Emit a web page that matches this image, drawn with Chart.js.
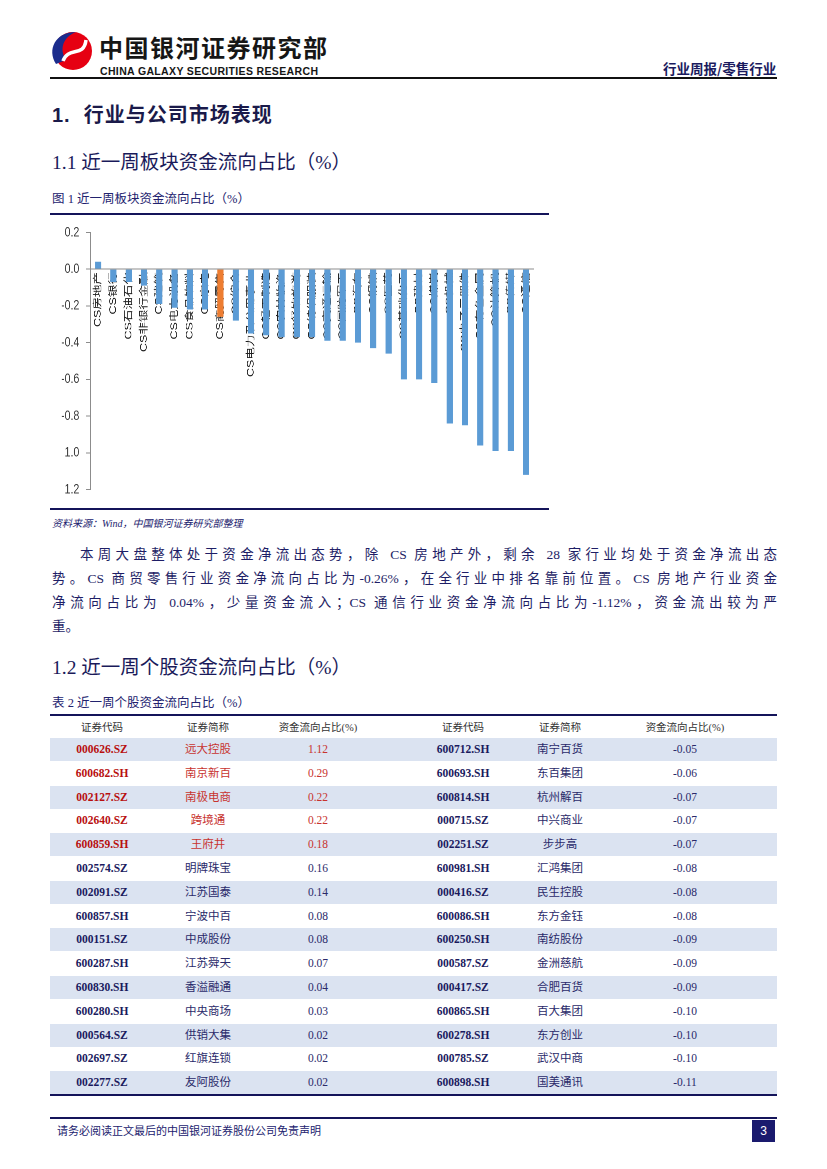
<!DOCTYPE html>
<html>
<head>
<meta charset="utf-8">
<script src="https://cdn.jsdelivr.net/npm/chart.js@4.4.0/dist/chart.umd.min.js"></script>
<style>
    body { margin: 0; background: #fff; }
    #page { position: relative; width: 827px; height: 1169px; overflow: hidden;
            font-family: "Liberation Serif", "Noto Sans CJK SC", serif; color: #1e1e66; }
    .abs { position: absolute; white-space: nowrap; }
    .line { position: absolute; background: #14145a; }
    .para { position: absolute; font-size: 13.5px; line-height: 20px; text-align: justify;
            text-align-last: justify; white-space: nowrap; }
    .cell { position: absolute; width: 130px; text-align: center; font-size: 11.5px; }
    .code { font-weight: bold; color: #1a1a5e; }
    #chartBox { position: absolute; left: 50px; top: 215px; width: 667px; height: 292px;
                transform: scaleX(0.75); transform-origin: 0 0; }
</style>
</head>
<body>
<div id="page">
    <!-- header -->
    <svg class="abs" style="left:0;top:0" width="110" height="80">
        <circle cx="73" cy="51" r="19" fill="#e60012"/>
        <path d="M56,64 C47,50 55,32 76,32 C63,37 59,49 66,60 Z" fill="#1b2c8c"/>
        <path d="M63,61 C68,46 84,58 86,40" stroke="#fff" stroke-width="3.5" fill="none"/>
    </svg>
    <div class="abs" style="left:99px;top:35px;font:bold 24px 'Noto Sans CJK SC';color:#161616;letter-spacing:1.5px;line-height:24px">中国银河证券研究部</div>
    <div class="abs" style="left:100px;top:65.5px;font:bold 10.5px 'Liberation Sans';color:#161616;line-height:11px;letter-spacing:0.35px">CHINA GALAXY SECURITIES RESEARCH</div>
    <div class="abs" style="left:663px;top:59px;font:bold 13.5px 'Noto Sans CJK SC';color:#1a1a5e;line-height:18px">行业周报/零售行业</div>
    <div class="line" style="left:50px;top:77px;width:727px;height:1.5px;background:#111"></div>

    <div class="abs" style="left:52px;top:102px;font:bold 20px 'Liberation Sans','Noto Sans CJK SC';color:#1a1a4a;line-height:26px;letter-spacing:1px">1.&nbsp;&nbsp;行业与公司市场表现</div>
    <div class="abs" style="left:52px;top:151px;font-size:19.5px;line-height:24px;color:#1a1a5a">1.1 近一周板块资金流向占比（%）</div>
    <div class="abs" style="left:52px;top:191px;font-size:12.5px;line-height:16px;color:#22226e">图 1 近一周板块资金流向占比（%）</div>
    <div class="line" style="left:50px;top:213px;width:499px;height:2px"></div>

    <div id="chartBox"><canvas id="flowChart"></canvas></div>

    <div class="line" style="left:50px;top:508px;width:499px;height:2px"></div>
    <div class="abs" style="left:52px;top:517px;font-size:10px;font-style:italic;line-height:14px;color:#22226e">资料来源：Wind，中国银河证券研究部整理</div>

    <div class="para" style="left:80px;top:545px;width:697px">本周大盘整体处于资金净流出态势，除 CS 房地产外，剩余 28 家行业均处于资金净流出态</div>
    <div class="para" style="left:52px;top:569px;width:725px">势。CS 商贸零售行业资金净流向占比为-0.26%，在全行业中排名靠前位置。CS 房地产行业资金</div>
    <div class="para" style="left:52px;top:593px;width:725px">净流向占比为 0.04%，少量资金流入；CS 通信行业资金净流向占比为-1.12%，资金流出较为严</div>
    <div class="para" style="left:52px;top:617px;width:725px;text-align-last:left">重。</div>

    <div class="abs" style="left:52px;top:656px;font-size:19.5px;line-height:24px;color:#1a1a5a">1.2 近一周个股资金流向占比（%）</div>
    <div class="abs" style="left:52px;top:695px;font-size:12.5px;line-height:16px;color:#22226e">表 2 近一周个股资金流向占比（%）</div>
    <div id="table"></div>

    <!-- footer -->
    <div class="line" style="left:50px;top:1117px;width:727px;height:1.5px"></div>
    <div class="abs" style="left:57px;top:1124px;font-size:11px;line-height:15px;color:#22226e">请务必阅读正文最后的中国银河证券股份公司免责声明</div>
    <div class="abs" style="left:752px;top:1120px;width:23px;height:22px;background:#1a1a6e;color:#fff;font:12px 'Liberation Sans';text-align:center;line-height:22px">3</div>
</div>

<script>
// chart data
const sectors = ['CS房地产', 'CS银行', 'CS石油石化', 'CS非银行金融', 'CS建筑', 'CS电力设备',
    'CS食品饮料', 'CS家电', 'CS商贸零售', 'CS综合', 'CS电力及公用事业', 'CS轻工制造',
    'CS农林牧渔', 'CS餐饮旅游', 'CS纺织服装', 'CS交通运输', 'CS国防军工', 'CS汽车',
    'CS钢铁', 'CS医药', 'CS基础化工', 'CS建材', 'CS煤炭', 'CS机械', 'CS电子元器件',
    'CS有色金属', 'CS计算机', 'CS传媒', 'CS通信']
const flowShare = [0.04, -0.07, -0.07, -0.09, -0.19, -0.21, -0.22, -0.22, -0.26, -0.28,
    -0.35, -0.36, -0.37, -0.37, -0.37, -0.39, -0.39, -0.40, -0.43, -0.46,
    -0.60, -0.60, -0.62, -0.84, -0.85, -0.96, -0.99, -0.99, -1.12]
const highlightSector = 'CS商贸零售'
const yTickValues = [-1.2, -1.0, -0.8, -0.6, -0.4, -0.2, 0, 0.2]
const yTickLabels = ['1.2', '1.0', '-0.8', '-0.6', '-0.4', '-0.2', '0.0', '0.2']

// table data
const tableHeader = ['证券代码', '证券简称', '资金流向占比(%)', '证券代码', '证券简称', '资金流向占比(%)']
const leftCodes = ['000626.SZ', '600682.SH', '002127.SZ', '002640.SZ', '600859.SH', '002574.SZ',
    '002091.SZ', '600857.SH', '000151.SZ', '600287.SH', '600830.SH', '600280.SH',
    '000564.SZ', '002697.SZ', '002277.SZ']
const leftNames = ['远大控股', '南京新百', '南极电商', '跨境通', '王府井', '明牌珠宝', '江苏国泰',
    '宁波中百', '中成股份', '江苏舜天', '香溢融通', '中央商场', '供销大集', '红旗连锁', '友阿股份']
const leftValues = ['1.12', '0.29', '0.22', '0.22', '0.18', '0.16', '0.14', '0.08', '0.08',
    '0.07', '0.04', '0.03', '0.02', '0.02', '0.02']
const rightCodes = ['600712.SH', '600693.SH', '600814.SH', '000715.SZ', '002251.SZ', '600981.SH',
    '000416.SZ', '600086.SH', '600250.SH', '000587.SZ', '000417.SZ', '600865.SH',
    '600278.SH', '000785.SZ', '600898.SH']
const rightNames = ['南宁百货', '东百集团', '杭州解百', '中兴商业', '步步高', '汇鸿集团', '民生控股',
    '东方金钰', '南纺股份', '金洲慈航', '合肥百货', '百大集团', '东方创业', '武汉中商', '国美通讯']
const rightValues = ['-0.05', '-0.06', '-0.07', '-0.07', '-0.07', '-0.08', '-0.08', '-0.08',
    '-0.09', '-0.09', '-0.09', '-0.10', '-0.10', '-0.10', '-0.11']
const redRows = 5

function buildTable() {
    var box = document.getElementById('table')
    var colCenters = [102, 208, 318, 463, 560, 685]
    var html = '<div class="line" style="left:50px;top:714px;width:727px;height:2px"></div>'
    tableHeader.forEach(function (t, c) {
        html += '<div class="cell" style="left:' + (colCenters[c] - 65) + 'px;top:719px;font-size:10.5px;color:#333">' + t + '</div>'
    })
    for (var i = 0; i < leftCodes.length; i++) {
        var top = 738 + i * 23.8
        if (i % 2 === 0) {
            html += '<div class="abs" style="left:50px;top:' + top + 'px;width:727px;height:23px;background:#dbe3f1"></div>'
        }
        var red = i < redRows
        var cells = [
            [leftCodes[i], 'code', red ? 'color:#b80f0f' : ''],
            [leftNames[i], '', red ? 'color:#c8332f' : 'color:#2a2a6a'],
            [leftValues[i], '', red ? 'color:#c8332f' : 'color:#2a2a6a'],
            [rightCodes[i], 'code', ''],
            [rightNames[i], '', 'color:#2a2a6a'],
            [rightValues[i], '', 'color:#2a2a6a']
        ]
        cells.forEach(function (cell, c) {
            html += '<div class="cell ' + cell[1] + '" style="left:' + (colCenters[c] - 65) + 'px;top:' +
                (top + 4) + 'px;line-height:15px;' + cell[2] + '">' + cell[0] + '</div>'
        })
    }
    html += '<div class="line" style="left:50px;top:1094px;width:727px;height:1.5px"></div>'
    box.innerHTML = html
}

function renderChart() {
    var ctx = document.getElementById('flowChart')
    var barColors = sectors.map(function (s) {
        return s === highlightSector ? '#ed7d31' : '#5b9bd5'
    })
    new Chart(ctx, {
        type: 'bar',
        data: {
            labels: sectors,
            datasets: [{
                data: flowShare,
                backgroundColor: barColors,
                barPercentage: 0.4,
                categoryPercentage: 1
            }]
        },
        options: {
            responsive: true,
            maintainAspectRatio: false,
            animation: false,
            devicePixelRatio: 2,
            layout: {padding: {top: 14, bottom: 13, right: 22, left: 0}},
            plugins: {legend: {display: false}, tooltip: {enabled: false}},
            scales: {
                x: {
                    position: {y: 0},
                    z: 1,
                    grid: {display: false, drawTicks: false},
                    border: {display: true, color: '#8c8c8c', width: 1},
                    ticks: {
                        autoSkip: false, minRotation: 90, maxRotation: 90, padding: 3,
                        color: '#1f1f1f',
                        font: {family: "'Liberation Sans', 'Noto Sans CJK SC'", size: 12.5}
                    }
                },
                y: {
                    min: -1.2,
                    max: 0.2,
                    afterBuildTicks: function (scale) {
                        scale.ticks = yTickValues.map(function (v) { return {value: v} })
                    },
                    afterFit: function (scale) { scale.width = 54 },
                    grid: {drawOnChartArea: false, tickLength: 6, color: '#8c8c8c'},
                    border: {display: true, color: '#8c8c8c', width: 1},
                    ticks: {
                        padding: 9,
                        color: '#404040',
                        font: {family: "'Liberation Sans'", size: 14},
                        callback: function (value, index) { return yTickLabels[index] }
                    }
                }
            }
        }
    })
}

buildTable()
renderChart()
</script>
</body>
</html>
